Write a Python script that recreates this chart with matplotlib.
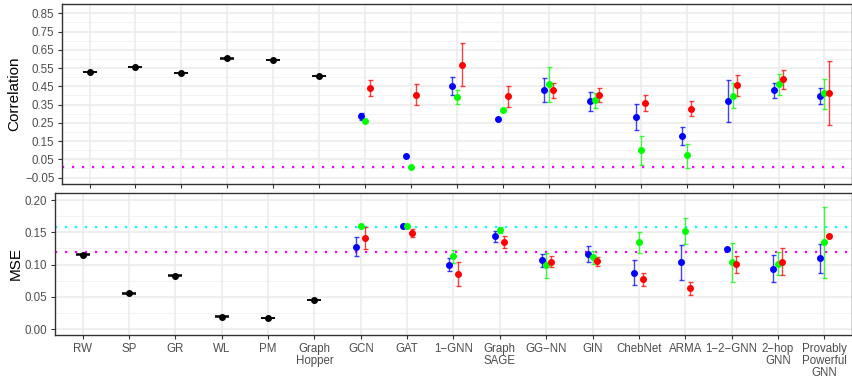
import numpy as np
import matplotlib
matplotlib.use("Agg")
import matplotlib.pyplot as plt

plt.rcParams["font.family"] = ["Liberation Sans", "DejaVu Sans"]

nan = np.nan

# methods on the x axis
kernels = ["RW", "SP", "GR", "WL", "PM", "Graph\nHopper"]
gnns = ["GCN", "GAT", "1\u2212GNN", "Graph\nSAGE", "GG\u2212NN", "GIN", "ChebNet",
        "ARMA", "1\u22122\u2212GNN", "2\u2212hop\nGNN", "Provably\nPowerful\nGNN"]

# kernel results (black)
kernel_corr = [0.528, 0.556, 0.523, 0.603, 0.594, 0.507]
kernel_corr_err = [0.002, 0.002, 0.002, 0.002, 0.002, 0.002]
kernel_mse = [0.1152, 0.0553, 0.0827, 0.0191, 0.0171, 0.0450]
kernel_mse_err = [0.0006, 0.0006, 0.0006, 0.0006, 0.0006, 0.0006]

# GNN correlation, three variants (blue, green, red)
corr_blue = [0.286, 0.067, 0.452, 0.270, 0.428, 0.368, 0.284, 0.178, 0.371, 0.428, 0.399]
corr_blue_lo = [0.267, nan, 0.403, nan, 0.363, 0.315, 0.211, 0.127, 0.255, 0.385, 0.352]
corr_blue_hi = [0.304, nan, 0.499, nan, 0.494, 0.421, 0.355, 0.229, 0.486, 0.470, 0.443]
corr_green = [0.260, 0.010, 0.391, 0.319, 0.461, 0.375, 0.102, 0.072, 0.399, 0.461, 0.412]
corr_green_lo = [nan, nan, 0.352, 0.308, 0.366, 0.330, 0.021, 0.003, 0.330, 0.403, 0.328]
corr_green_hi = [nan, nan, 0.430, 0.331, 0.554, 0.414, 0.180, 0.136, 0.467, 0.519, 0.492]
corr_red = [0.439, 0.405, 0.569, 0.396, 0.428, 0.405, 0.360, 0.328, 0.457, 0.489, 0.412]
corr_red_lo = [0.396, 0.346, 0.450, 0.339, 0.388, 0.366, 0.315, 0.286, 0.397, 0.436, 0.237]
corr_red_hi = [0.483, 0.461, 0.689, 0.454, 0.468, 0.443, 0.404, 0.368, 0.514, 0.539, 0.588]

# GNN MSE
mse_blue = [0.1276, 0.1597, 0.0992, 0.1437, 0.1065, 0.1163, 0.0873, 0.1034, 0.1235, 0.0935, 0.1101]
mse_blue_lo = [0.1132, nan, 0.0894, 0.1349, 0.0966, 0.1044, 0.0677, 0.0760, nan, 0.0724, 0.0864]
mse_blue_hi = [0.1422, nan, 0.1096, 0.1524, 0.1163, 0.1282, 0.1075, 0.1302, nan, 0.1142, 0.1323]
mse_green = [0.1597, 0.1597, 0.1127, 0.1530, 0.0987, 0.1116, 0.1349, 0.1514, 0.1034, 0.1013, 0.1349]
mse_green_lo = [nan, nan, 0.1018, 0.1483, 0.0786, 0.1013, 0.1173, 0.1313, 0.0729, 0.0832, 0.0796]
mse_green_hi = [nan, nan, 0.1220, 0.1586, 0.1183, 0.1209, 0.1509, 0.1716, 0.1333, 0.1189, 0.1896]
mse_red = [0.1406, 0.1484, 0.0853, 0.1354, 0.1044, 0.1054, 0.0770, 0.0631, 0.1003, 0.1044, 0.1437]
mse_red_lo = [0.1236, 0.1422, 0.0667, 0.1261, 0.0956, 0.0982, 0.0672, 0.0527, 0.0873, 0.0832, nan]
mse_red_hi = [0.1577, 0.1556, 0.1039, 0.1447, 0.1132, 0.1121, 0.0873, 0.0734, 0.1137, 0.1256, nan]

# reference lines
corr_ref = 0.01
mse_ref = 0.12
mse_ref2 = 0.159

labels = kernels + gnns
xk = np.arange(1, len(kernels) + 1)
xg = np.arange(len(kernels) + 1, len(labels) + 1)

fig = plt.figure(figsize=(8.53, 3.77), dpi=100)
ax1 = fig.add_axes([62 / 853, 1 - 184 / 377, 790 / 853, 180 / 377])
ax2 = fig.add_axes([55 / 853, 1 - 335 / 377, 797 / 853, 142 / 377])


def style(ax, major, minor, ylim):
    ax.set_xlim(0.4, len(labels) + 0.6)
    ax.set_ylim(*ylim)
    for v in minor:
        ax.axhline(v, color="#F2F2F2", lw=0.6, zorder=0)
    for v in major:
        ax.axhline(v, color="#EBEBEB", lw=1.1, zorder=0)
    for v in range(1, len(labels) + 1):
        ax.axvline(v, color="#EBEBEB", lw=1.1, zorder=0)
    for s in ax.spines.values():
        s.set_color("#333333")
        s.set_linewidth(1.0)
    ax.set_xticks(range(1, len(labels) + 1))
    ax.tick_params(axis="both", colors="#333333", length=3, width=0.8,
                   labelcolor="#4D4D4D", labelsize=8.3, pad=2.5)


def draw_series(ax, y, lo, hi, color, offset):
    x = xg + offset
    y = np.array(y)
    lo = np.array(lo)
    hi = np.array(hi)
    ok = ~np.isnan(lo)
    ax.errorbar(x[ok], y[ok], yerr=[y[ok] - lo[ok], hi[ok] - y[ok]], fmt="none",
                ecolor=color, elinewidth=1.0, capsize=1.8, capthick=1.0,
                alpha=0.75, zorder=3)
    ax.plot(x, y, "o", color=color, ms=4, zorder=4)


# correlation panel
style(ax1, np.arange(-0.05, 0.86, 0.1), np.arange(0.0, 0.91, 0.1), (-0.085, 0.901))
ax1.set_yticks(np.arange(-0.05, 0.86, 0.1))
ax1.set_yticklabels([f"{v:.2f}".replace("-", "\u2212") for v in np.arange(-0.05, 0.86, 0.1)])
ax1.set_xticklabels([])
ax1.axhline(corr_ref, color="#FF00FF", lw=1.6, ls=(0, (1, 3.5)), zorder=2)
ax1.errorbar(xk, kernel_corr, yerr=kernel_corr_err, fmt="o", color="black", ms=4,
             capsize=5, elinewidth=1, capthick=1.1, zorder=4)
draw_series(ax1, corr_blue, corr_blue_lo, corr_blue_hi, "#0000FF", -0.1)
draw_series(ax1, corr_green, corr_green_lo, corr_green_hi, "#00FF00", 0.0)
draw_series(ax1, corr_red, corr_red_lo, corr_red_hi, "#FF0000", 0.1)
ax1.set_ylabel("Correlation", fontsize=11, color="black")
ax1.yaxis.set_label_coords(-0.051, 0.5)

# MSE panel
style(ax2, np.arange(0, 0.201, 0.05), np.arange(0.025, 0.21, 0.05), (-0.0093, 0.211))
ax2.set_yticks(np.arange(0, 0.201, 0.05))
ax2.set_yticklabels([f"{v:.2f}" for v in np.arange(0, 0.201, 0.05)])
ax2.set_xticklabels(labels, linespacing=1.0)
ax2.axhline(mse_ref2, color="#00FFFF", lw=1.6, ls=(0, (1, 3.5)), zorder=2)
ax2.axhline(mse_ref, color="#FF00FF", lw=1.6, ls=(0, (1, 3.5)), zorder=2)
ax2.errorbar(xk, kernel_mse, yerr=kernel_mse_err, fmt="o", color="black", ms=4,
             capsize=5, elinewidth=1, capthick=1.1, zorder=4)
draw_series(ax2, mse_blue, mse_blue_lo, mse_blue_hi, "#0000FF", -0.1)
draw_series(ax2, mse_green, mse_green_lo, mse_green_hi, "#00FF00", 0.0)
draw_series(ax2, mse_red, mse_red_lo, mse_red_hi, "#FF0000", 0.1)
ax2.set_ylabel("MSE", fontsize=11, color="black")
ax2.yaxis.set_label_coords(-0.041, 0.5)

fig.savefig("out.png", dpi=100)
